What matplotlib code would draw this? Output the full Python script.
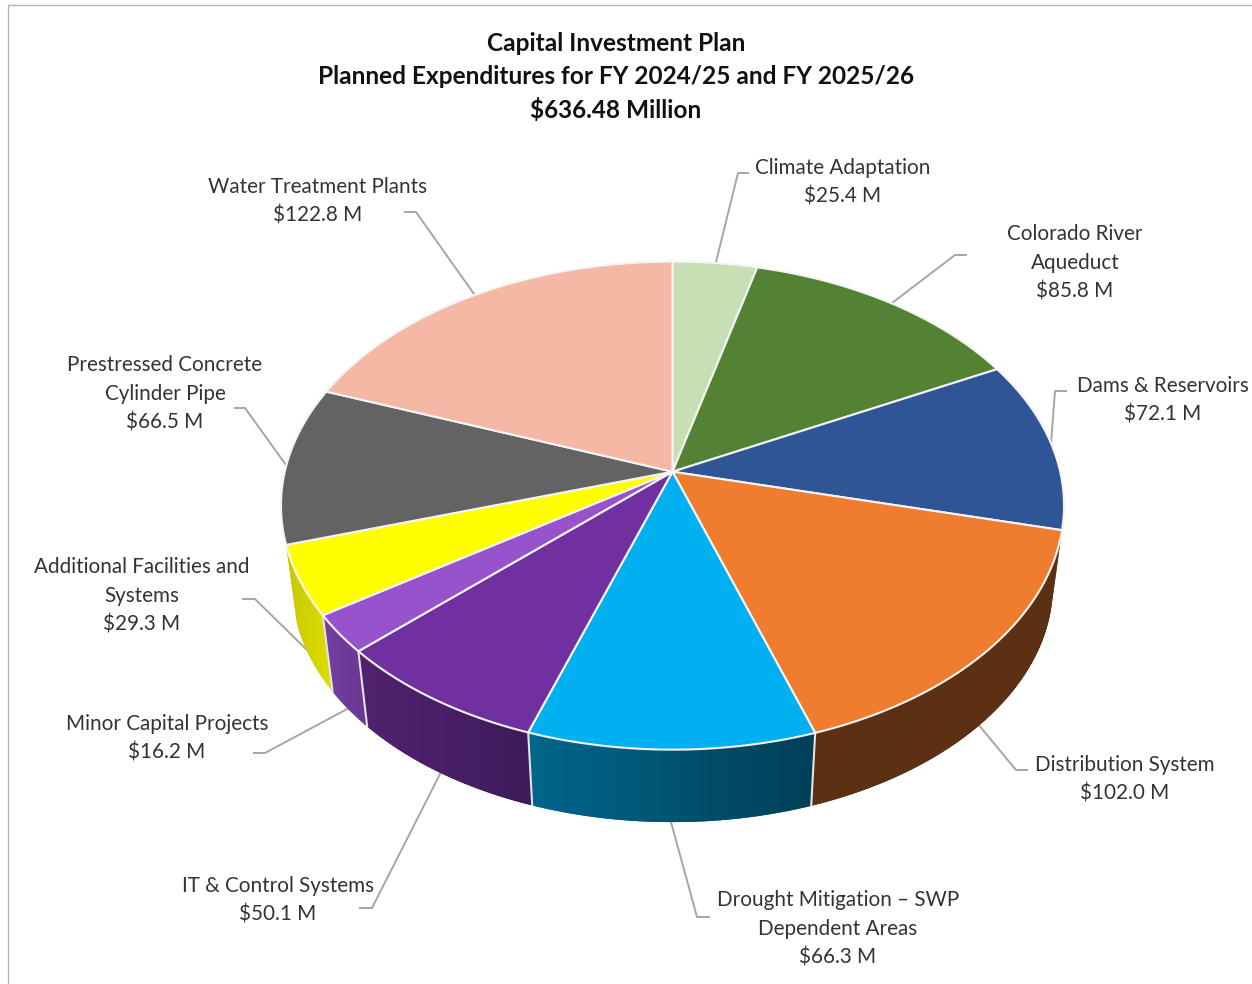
import numpy as np
import matplotlib
matplotlib.use('Agg')
import matplotlib.pyplot as plt
from matplotlib.colors import LinearSegmentedColormap

# ---Data, clockwise from 12 o'clock---
categories = ['Climate Adaptation', 'Colorado River\nAqueduct', 'Dams & Reservoirs',
              'Distribution System', 'Drought Mitigation \u2013 SWP\nDependent Areas',
              'IT & Control Systems', 'Minor Capital Projects',
              'Additional Facilities and\nSystems', 'Prestressed Concrete\nCylinder Pipe',
              'Water Treatment Plants']
values = [25.4, 85.8, 72.1, 102.0, 66.3, 50.1, 16.2, 29.3, 66.5, 122.8]
title = 'Capital Investment Plan\nPlanned Expenditures for FY 2024/25 and FY 2025/26\n$636.48 Million'

# ---Colours---
top_colors = ['#C6E0B4', '#548235', '#2F5597', '#F07D2E', '#00B0F0',
              '#7030A0', '#9653CB', '#FFFF00', '#636363', '#F5B8A5']
# wall shading, left end and right end as seen on screen (only the front slices show)
wall_left = {3: '#5C3012', 4: '#00678C', 5: '#522270', 6: '#75409F', 7: '#C9C900'}
wall_right = {3: '#5C3012', 4: '#003F58', 5: '#3E1B5C', 6: '#6A3696', 7: '#DEDE00'}

# ---Perspective of the disc on the page (pixels)---
CX, CY = 672.5, 471.7
A, B, K = 387.7, 239.3, 0.139
WALL_Y, WALL_SCALE = 552, 0.972


def top_xy(theta):
    d = 1 + K * np.cos(theta)
    return CX + A * np.sin(theta) / d, CY - B * np.cos(theta) / d


def bottom_xy(theta):
    d = 1 + K * np.cos(theta)
    return CX + WALL_SCALE * A * np.sin(theta) / d, WALL_Y - WALL_SCALE * B * np.cos(theta) / d


fig = plt.figure(figsize=(12.52, 9.84), dpi=100)
ax = fig.add_axes([0, 0, 1, 1])
ax.axis('off')

# ---Frame of the chart area---
ax.plot([7.5, 7.5, 1252], [984, 4.5, 4.5], color='#B4B4B4', lw=1.0, zorder=1)

# ---Leader lines---
leaders = [([716, 738, 748], [262, 173, 173]),
           ([892, 955, 966], [303, 255, 255]),
           ([1051, 1055, 1066], [444, 391, 391]),
           ([978, 1016, 1027], [724, 770, 770]),
           ([671, 697, 709], [822, 917, 917]),
           ([441, 372, 360], [772, 908, 908]),
           ([349, 265, 254], [708, 753, 753]),
           ([311, 255, 243], [654, 599, 599]),
           ([286, 245, 235], [465, 408, 408]),
           ([474, 416, 405], [294, 212, 212])]
for xs, ys in leaders:
    ax.plot(xs, ys, color='#A6A6A6', lw=1.4, zorder=2)

edges = np.concatenate([[0], np.cumsum(values)]) / np.sum(values) * 2 * np.pi

# ---Side wall, a gradient image clipped to each front slice---
for i in wall_left:
    t = np.linspace(edges[i], edges[i + 1], 120)
    x1, y1 = top_xy(t)
    x2, y2 = bottom_xy(t)
    wall_x = np.r_[x1, x2[::-1]]
    wall_y = np.r_[y1, y2[::-1]]
    poly = ax.fill(wall_x, wall_y, facecolor=wall_left[i], edgecolor='none', zorder=3)[0]
    cmap = LinearSegmentedColormap.from_list('wall', [wall_left[i], wall_right[i]])
    im = ax.imshow(np.linspace(0, 1, 200)[None, :], cmap=cmap, aspect='auto', zorder=3,
                   extent=[wall_x.min(), wall_x.max(), wall_y.max(), wall_y.min()])
    im.set_clip_path(poly)

# white seams between the front slices
for e in edges[4:8]:
    x1, y1 = top_xy(e)
    x2, y2 = bottom_xy(e)
    ax.plot([x1, x2], [y1, y2], color='#E4E4E4', lw=1.5, zorder=4)

# ---Top of the pie---
for i in range(len(values)):
    t = np.linspace(edges[i], edges[i + 1], 120)
    x, y = top_xy(t)
    ax.fill(np.r_[CX, x], np.r_[CY, y], facecolor=top_colors[i], edgecolor='#F4F4F4',
            lw=1.5, joinstyle='round', zorder=5)

# ---Labels---
label_pos = [(843, 182), (1075, 263), (1163, 400), (1125, 779), (838, 929),
             (278, 900), (167, 738), (142, 596), (165, 394), (318, 201)]
for name, v, (lx, ly) in zip(categories, values, label_pos):
    ax.text(lx, ly, f'{name}\n${v:.1f} M', ha='center', va='center', family='Lato',
            fontsize=14.85, color='#333333', linespacing=1.56, zorder=6)

ax.text(616, 77, title, ha='center', va='center', family='Lato', fontweight='bold',
        fontsize=17.6, color='#111111', linespacing=1.5, zorder=6)

ax.set_xlim(0, 1252)
ax.set_ylim(984, 0)

fig.savefig('out.png', dpi=100, facecolor='white')
